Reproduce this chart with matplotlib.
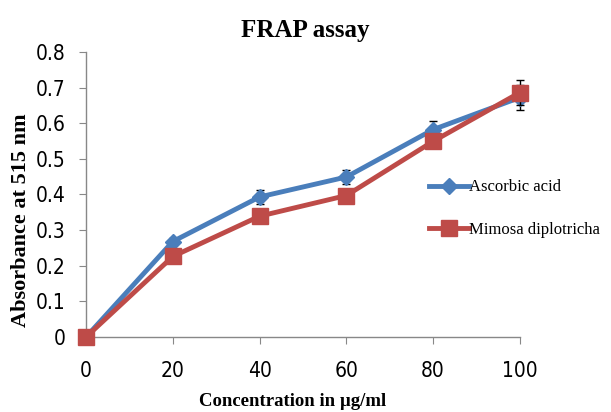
import matplotlib.pyplot as plt
from matplotlib import font_manager
from matplotlib.lines import Line2D

conc = [0, 20, 40, 60, 80, 100]
ascorbic = [0, 0.268, 0.393, 0.449, 0.582, 0.672]
ascorbic_err = [0, 0.01, 0.02, 0.02, 0.025, 0.035]
mimosa = [0, 0.226, 0.339, 0.397, 0.549, 0.686]
mimosa_err = [0, 0.01, 0.01, 0.015, 0.015, 0.035]
yticks = [0, 0.1, 0.2, 0.3, 0.4, 0.5, 0.6, 0.7, 0.8]
ytick_labels = ['0', '0.1', '0.2', '0.3', '0.4', '0.5', '0.6', '0.7', '0.8']

# look for a condensed sans for the tick labels, else plain Liberation Sans
tick_font = font_manager.FontProperties(family='Liberation Sans', size=14)
for f in font_manager.fontManager.ttflist:
    if 'Narrow' in f.name or (f.stretch in ('condensed', 500) and 'Sans' in f.name
                              and f.style == 'normal' and f.weight in (400, 'normal')):
        tick_font = font_manager.FontProperties(fname=f.fname, size=15)
        break
serif = 'Liberation Serif'

W, H = 611, 412
fig = plt.figure(figsize=(W / 100, H / 100), dpi=100)
ax = fig.add_axes([0.1408, 0.182, 0.710, 0.692])

blue = '#4A7EBB'
red = '#BE4B48'

ax.errorbar(conc, ascorbic, yerr=ascorbic_err, color=blue, lw=3.5, marker='D',
            markersize=8, ecolor='black', elinewidth=1, capsize=3,
            clip_on=False, zorder=3)
ax.errorbar(conc, mimosa, yerr=mimosa_err, color=red, lw=3.5, marker='s',
            markersize=11, ecolor='black', elinewidth=1, capsize=3,
            clip_on=False, zorder=4)

ax.set_xlim(0, 100)
ax.set_ylim(0, 0.8)
ax.set_xticks(conc)
ax.set_yticks(yticks)
ax.set_yticklabels(ytick_labels)
for lab in ax.get_xticklabels() + ax.get_yticklabels():
    lab.set_fontproperties(tick_font)

for s in ['top', 'right']:
    ax.spines[s].set_visible(False)
for s in ['left', 'bottom']:
    ax.spines[s].set_color('#888888')
    ax.spines[s].set_linewidth(1)
ax.tick_params(axis='both', colors='#888888', labelcolor='black', length=5)
ax.tick_params(axis='x', pad=12)
ax.tick_params(axis='y', pad=10)

# axis titles placed by hand (pixel positions from the reference)
fig.text(293 / W, 1 - 402 / H, 'Concentration in µg/ml', ha='center', va='center',
         fontfamily=serif, fontweight='bold', fontsize=13.5)
fig.text(21 / W, 1 - 220 / H, 'Absorbance at 515 nm', ha='center', va='center',
         rotation=90, fontfamily=serif, fontweight='bold', fontsize=16)
fig.text(0.5, 0.925, 'FRAP assay', ha='center', va='center', fontfamily=serif,
         fontweight='bold', fontsize=18)

handles = [
    Line2D([], [], color=blue, lw=3.5, marker='D', markersize=8),
    Line2D([], [], color=red, lw=3.5, marker='s', markersize=11),
]
ax.legend(handles, ['Ascorbic acid', 'Mimosa diplotricha'], loc='center left',
          bbox_to_anchor=(0.755, 0.45), frameon=False,
          prop={'family': serif, 'size': 12}, handlelength=2.4,
          handletextpad=0.05, labelspacing=1.6)

fig.savefig('out.png', dpi=100)
